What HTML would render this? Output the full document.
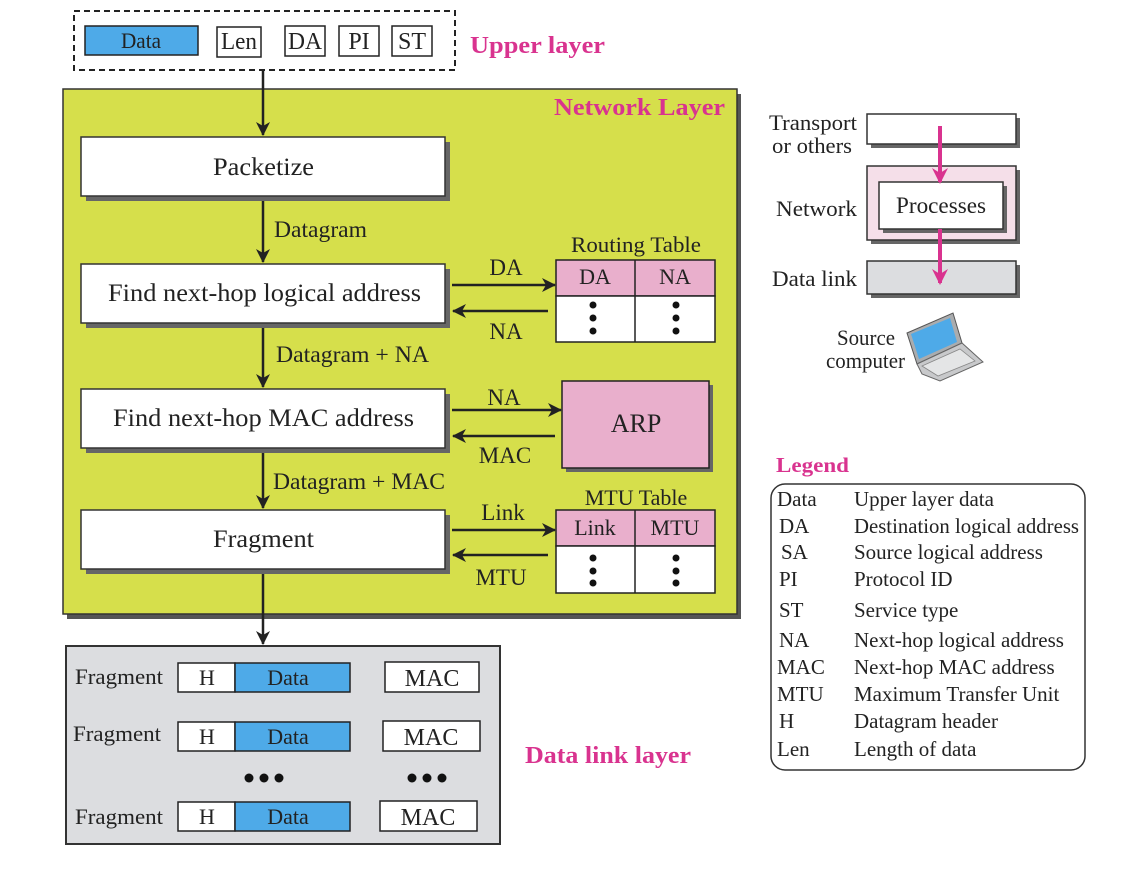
<!DOCTYPE html>
<html><head><meta charset="utf-8"><style>
html,body{margin:0;padding:0;background:#fff}
svg{display:block}
text{font-family:"Liberation Serif",serif;fill:#222}
.pk{fill:#d9338f;font-weight:bold}
</style></head><body>
<svg width="1146" height="884" viewBox="0 0 1146 884" xmlns="http://www.w3.org/2000/svg">
<defs>
<marker id="ah" markerWidth="14" markerHeight="14" refX="13" refY="7" orient="auto" markerUnits="userSpaceOnUse" viewBox="0 0 14 14">
<path d="M0,0 L14,7 L0,14 L4,7 z" fill="#222"/></marker>
<marker id="ap" markerWidth="16" markerHeight="16" refX="14" refY="8" orient="auto" markerUnits="userSpaceOnUse" viewBox="0 0 16 16">
<path d="M0,0 L16,8 L0,16 L5,8 z" fill="#d9338f"/></marker>
</defs>

<!-- Upper layer -->
<rect x="74" y="11" width="381" height="59" fill="none" stroke="#222" stroke-width="2" stroke-dasharray="6,4"/>
<rect x="85" y="26" width="113" height="29" fill="#4eaae8" stroke="#222" stroke-width="1.5"/>
<text x="141" y="48" font-size="22" text-anchor="middle" textLength="40" lengthAdjust="spacingAndGlyphs">Data</text>
<rect x="217" y="27" width="44" height="30" fill="#fff" stroke="#222" stroke-width="1.5"/>
<text x="239" y="49" font-size="24" text-anchor="middle" textLength="36" lengthAdjust="spacingAndGlyphs">Len</text>
<rect x="285" y="26" width="40" height="30" fill="#fff" stroke="#222" stroke-width="1.5"/>
<text x="305" y="49" font-size="24" text-anchor="middle" textLength="34" lengthAdjust="spacingAndGlyphs">DA</text>
<rect x="339" y="26" width="40" height="30" fill="#fff" stroke="#222" stroke-width="1.5"/>
<text x="359" y="49" font-size="24" text-anchor="middle">PI</text>
<rect x="392" y="26" width="40" height="30" fill="#fff" stroke="#222" stroke-width="1.5"/>
<text x="412" y="49" font-size="24" text-anchor="middle">ST</text>
<text x="470" y="53" font-size="24" class="pk" textLength="135" lengthAdjust="spacingAndGlyphs">Upper layer</text>

<!-- Network layer -->
<rect x="67" y="94" width="674" height="525" fill="#555"/>
<rect x="63" y="89" width="674" height="525" fill="#d6df4b" stroke="#333" stroke-width="1.5"/>
<text x="554" y="115" font-size="24" class="pk" textLength="171" lengthAdjust="spacingAndGlyphs">Network Layer</text>

<line x1="263" y1="70" x2="263" y2="135" stroke="#222" stroke-width="2.5" marker-end="url(#ah)"/>
<line x1="263" y1="197" x2="263" y2="262" stroke="#222" stroke-width="2.5" marker-end="url(#ah)"/>
<line x1="263" y1="324" x2="263" y2="387" stroke="#222" stroke-width="2.5" marker-end="url(#ah)"/>
<line x1="263" y1="449" x2="263" y2="508" stroke="#222" stroke-width="2.5" marker-end="url(#ah)"/>
<line x1="263" y1="570" x2="263" y2="644" stroke="#222" stroke-width="2.5" marker-end="url(#ah)"/>

<g font-size="25">
<rect x="86" y="142" width="364" height="59" fill="#666"/>
<rect x="81" y="137" width="364" height="59" fill="#fff" stroke="#333" stroke-width="1.5"/>
<text x="213" y="175" textLength="101" lengthAdjust="spacingAndGlyphs">Packetize</text>
<rect x="86" y="269" width="364" height="59" fill="#666"/>
<rect x="81" y="264" width="364" height="59" fill="#fff" stroke="#333" stroke-width="1.5"/>
<text x="108" y="301" textLength="313" lengthAdjust="spacingAndGlyphs">Find next-hop logical address</text>
<rect x="86" y="394" width="364" height="59" fill="#666"/>
<rect x="81" y="389" width="364" height="59" fill="#fff" stroke="#333" stroke-width="1.5"/>
<text x="113" y="426" textLength="301" lengthAdjust="spacingAndGlyphs">Find next-hop MAC address</text>
<rect x="86" y="515" width="364" height="59" fill="#666"/>
<rect x="81" y="510" width="364" height="59" fill="#fff" stroke="#333" stroke-width="1.5"/>
<text x="213" y="547" textLength="101" lengthAdjust="spacingAndGlyphs">Fragment</text>
</g>
<g font-size="23">
<text x="274" y="237" textLength="93" lengthAdjust="spacingAndGlyphs">Datagram</text>
<text x="276" y="362" textLength="153" lengthAdjust="spacingAndGlyphs">Datagram + NA</text>
<text x="273" y="489" textLength="172" lengthAdjust="spacingAndGlyphs">Datagram + MAC</text>
</g>

<!-- Routing table -->
<text x="571" y="252" font-size="22" textLength="130" lengthAdjust="spacingAndGlyphs">Routing Table</text>
<rect x="556" y="260" width="159" height="36" fill="#e9afcc" stroke="#222" stroke-width="1.5"/>
<rect x="556" y="296" width="159" height="46" fill="#fff" stroke="#222" stroke-width="1.5"/>
<line x1="635" y1="260" x2="635" y2="342" stroke="#222" stroke-width="1.5"/>
<text x="595" y="284" font-size="22" text-anchor="middle">DA</text>
<text x="675" y="284" font-size="22" text-anchor="middle">NA</text>
<g fill="#111"><circle cx="593" cy="305" r="3.5"/><circle cx="593" cy="318" r="3.5"/><circle cx="593" cy="331" r="3.5"/>
<circle cx="676" cy="305" r="3.5"/><circle cx="676" cy="318" r="3.5"/><circle cx="676" cy="331" r="3.5"/></g>
<line x1="452" y1="285" x2="555" y2="285" stroke="#222" stroke-width="2.5" marker-end="url(#ah)"/>
<line x1="548" y1="311" x2="453" y2="311" stroke="#222" stroke-width="2.5" marker-end="url(#ah)"/>
<text x="506" y="275" font-size="23" text-anchor="middle">DA</text>
<text x="506" y="339" font-size="23" text-anchor="middle">NA</text>

<!-- ARP -->
<rect x="566" y="385" width="147" height="87" fill="#666"/>
<rect x="562" y="381" width="147" height="87" fill="#e9afcc" stroke="#222" stroke-width="1.5"/>
<text x="636" y="432" font-size="26" text-anchor="middle">ARP</text>
<line x1="452" y1="410" x2="561" y2="410" stroke="#222" stroke-width="2.5" marker-end="url(#ah)"/>
<line x1="555" y1="436" x2="453" y2="436" stroke="#222" stroke-width="2.5" marker-end="url(#ah)"/>
<text x="504" y="405" font-size="23" text-anchor="middle">NA</text>
<text x="505" y="463" font-size="23" text-anchor="middle">MAC</text>

<!-- MTU table -->
<text x="636" y="505" font-size="22" text-anchor="middle">MTU Table</text>
<rect x="556" y="510" width="159" height="36" fill="#e9afcc" stroke="#222" stroke-width="1.5"/>
<rect x="556" y="546" width="159" height="47" fill="#fff" stroke="#222" stroke-width="1.5"/>
<line x1="635" y1="510" x2="635" y2="593" stroke="#222" stroke-width="1.5"/>
<text x="595" y="535" font-size="22" text-anchor="middle">Link</text>
<text x="675" y="535" font-size="22" text-anchor="middle">MTU</text>
<g fill="#111"><circle cx="593" cy="558" r="3.5"/><circle cx="593" cy="571" r="3.5"/><circle cx="593" cy="583" r="3.5"/>
<circle cx="676" cy="558" r="3.5"/><circle cx="676" cy="571" r="3.5"/><circle cx="676" cy="583" r="3.5"/></g>
<line x1="452" y1="530" x2="555" y2="530" stroke="#222" stroke-width="2.5" marker-end="url(#ah)"/>
<line x1="548" y1="555" x2="453" y2="555" stroke="#222" stroke-width="2.5" marker-end="url(#ah)"/>
<text x="503" y="520" font-size="23" text-anchor="middle">Link</text>
<text x="501" y="585" font-size="23" text-anchor="middle">MTU</text>

<!-- Data link layer -->
<rect x="66" y="646" width="434" height="198" fill="#dcdde0" stroke="#333" stroke-width="2"/>
<g font-size="22">
<text x="75" y="684" textLength="88" lengthAdjust="spacingAndGlyphs">Fragment</text>
<text x="73" y="741" textLength="88" lengthAdjust="spacingAndGlyphs">Fragment</text>
<text x="75" y="824" textLength="88" lengthAdjust="spacingAndGlyphs">Fragment</text>
</g>
<g stroke="#222" stroke-width="1.5">
<rect x="178" y="663" width="57" height="29" fill="#fff"/><rect x="235" y="663" width="115" height="29" fill="#4eaae8"/>
<rect x="178" y="722" width="57" height="29" fill="#fff"/><rect x="235" y="722" width="115" height="29" fill="#4eaae8"/>
<rect x="178" y="802" width="57" height="29" fill="#fff"/><rect x="235" y="802" width="115" height="29" fill="#4eaae8"/>
<rect x="385" y="662" width="94" height="30" fill="#fff"/>
<rect x="383" y="721" width="97" height="30" fill="#fff"/>
<rect x="380" y="801" width="97" height="30" fill="#fff"/>
</g>
<g font-size="22" text-anchor="middle">
<text x="207" y="685">H</text><text x="288" y="685">Data</text>
<text x="207" y="744">H</text><text x="288" y="744">Data</text>
<text x="207" y="824">H</text><text x="288" y="824">Data</text>
<text x="432" y="686" font-size="24">MAC</text>
<text x="431" y="745" font-size="24">MAC</text>
<text x="428" y="825" font-size="24">MAC</text>
</g>
<g fill="#111"><circle cx="249" cy="778" r="4.5"/><circle cx="264" cy="778" r="4.5"/><circle cx="279" cy="778" r="4.5"/>
<circle cx="412" cy="778" r="4.5"/><circle cx="427" cy="778" r="4.5"/><circle cx="442" cy="778" r="4.5"/></g>
<text x="525" y="763" font-size="24" class="pk" textLength="166" lengthAdjust="spacingAndGlyphs">Data link layer</text>

<!-- Right stack -->
<g font-size="22">
<text x="769" y="130" textLength="88" lengthAdjust="spacingAndGlyphs">Transport</text>
<text x="772" y="153" textLength="80" lengthAdjust="spacingAndGlyphs">or others</text>
<text x="776" y="216" textLength="81" lengthAdjust="spacingAndGlyphs">Network</text>
<text x="772" y="286" textLength="85" lengthAdjust="spacingAndGlyphs">Data link</text>
<text x="837" y="345" textLength="58" lengthAdjust="spacingAndGlyphs">Source</text>
<text x="826" y="368" textLength="79" lengthAdjust="spacingAndGlyphs">computer</text>
</g>
<rect x="871" y="118" width="149" height="30" fill="#666"/>
<rect x="867" y="114" width="149" height="30" fill="#fff" stroke="#333" stroke-width="1.5"/>
<rect x="871" y="170" width="149" height="74" fill="#666"/>
<rect x="867" y="166" width="149" height="74" fill="#f5dfe9" stroke="#333" stroke-width="1.5"/>
<rect x="883" y="186" width="124" height="47" fill="#666"/>
<rect x="879" y="182" width="124" height="47" fill="#fff" stroke="#333" stroke-width="1.5"/>
<text x="896" y="213" font-size="23" textLength="90" lengthAdjust="spacingAndGlyphs">Processes</text>
<rect x="871" y="265" width="149" height="33" fill="#666"/>
<rect x="867" y="261" width="149" height="33" fill="#dcdde0" stroke="#333" stroke-width="1.5"/>
<line x1="940" y1="126" x2="940" y2="182" stroke="#d9338f" stroke-width="4" marker-end="url(#ap)"/>
<line x1="940" y1="229" x2="940" y2="283" stroke="#d9338f" stroke-width="4" marker-end="url(#ap)"/>

<!-- laptop -->
<polygon points="907,333 953,313 962,343 917,364" fill="#aaacae" stroke="#555"/>
<polygon points="911,334 950,318 957,342 919,359" fill="#4eaae8"/>
<polygon points="917,364 962,343 983,362 940,381 922,374" fill="#c8c9cb" stroke="#666"/>
<polygon points="922,366 960,349 975,361 938,376" fill="#e4e5e6" stroke="#888" stroke-width="0.8"/>

<!-- Legend -->
<text x="776" y="472" font-size="21" class="pk" textLength="73" lengthAdjust="spacingAndGlyphs">Legend</text>
<rect x="771" y="484" width="314" height="286" rx="14" fill="#fff" stroke="#333" stroke-width="1.5"/>
<g font-size="21">
<text x="777" y="506">Data</text><text x="854" y="506">Upper layer data</text>
<text x="779" y="533">DA</text><text x="854" y="533" textLength="225" lengthAdjust="spacingAndGlyphs">Destination logical address</text>
<text x="781" y="559">SA</text><text x="854" y="559">Source logical address</text>
<text x="779" y="586">PI</text><text x="854" y="586">Protocol ID</text>
<text x="779" y="617">ST</text><text x="854" y="617">Service type</text>
<text x="779" y="647">NA</text><text x="854" y="647">Next-hop logical address</text>
<text x="777" y="674">MAC</text><text x="854" y="674">Next-hop MAC address</text>
<text x="777" y="701">MTU</text><text x="854" y="701">Maximum Transfer Unit</text>
<text x="779" y="728">H</text><text x="854" y="728">Datagram header</text>
<text x="777" y="756">Len</text><text x="854" y="756">Length of data</text>
</g>
</svg>
</body></html>
